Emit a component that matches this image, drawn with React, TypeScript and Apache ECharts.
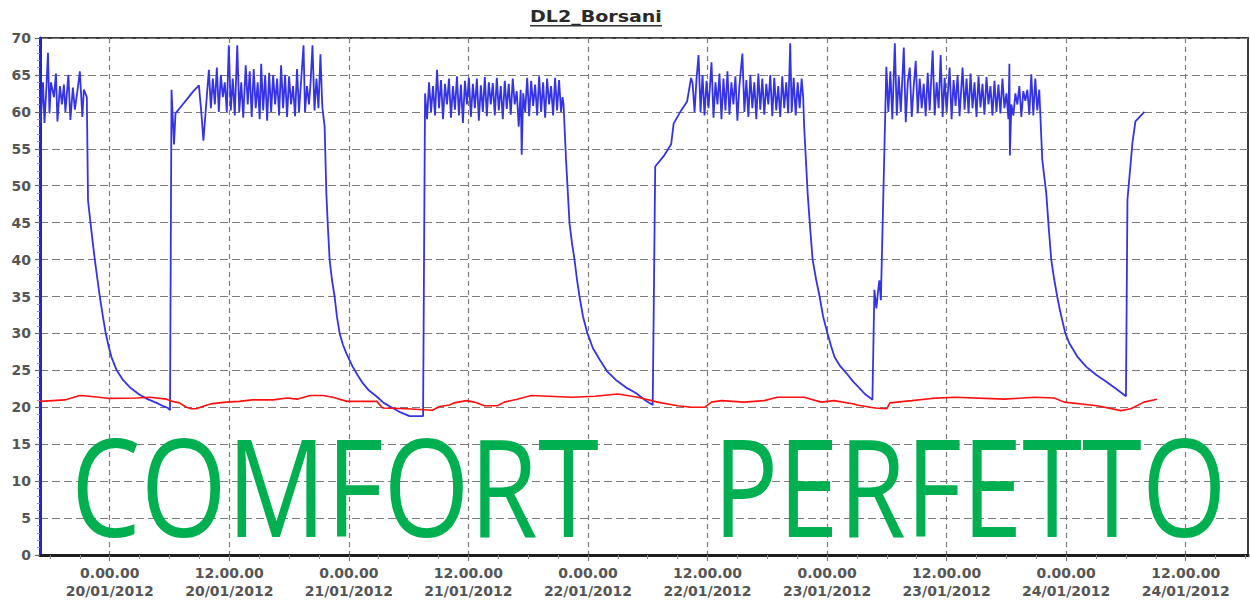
import React, { useEffect, useRef } from 'react';
import * as echarts from 'echarts';

const chartTitle = 'DL2_Borsani';
const overlayLeft = 'COMFORT';
const overlayRight = 'PERFETTO';

// x values are hours from 20/01/2012 0.00.00
const majorHours = [0, 12, 24, 36, 48, 60, 72, 84, 96, 108];
const minorHours = [-6, -3, 3, 6, 9, 15, 18, 21, 27, 30, 33, 39, 42, 45, 51, 54, 57, 63, 66, 69, 75, 78, 81, 87, 90, 93, 99, 102, 105, 111, 114];

const blueCycle1 = [
  [-6.95, 58.5], [-6.85, 60.5], [-6.7, 64], [-6.55, 58.5], [-6.35, 63.5], [-6.2, 68], [-6.05, 59.8], [-5.9, 64], [-5.6, 62],
  [-5.4, 65.2], [-5.25, 58.7], [-5.0, 63.5], [-4.8, 61], [-4.6, 63.7], [-4.45, 60], [-4.15, 65], [-3.95, 58.9],
  [-3.7, 63.3], [-3.5, 60.3], [-3.15, 63.8], [-3.0, 65.5], [-2.75, 59.3], [-2.6, 63], [-2.45, 62.5],
  [-2.3, 62], [-2.18, 48], [-1.85, 44], [-1.5, 40], [-1.0, 35], [-0.7, 32.4], [-0.4, 30], [-0.1, 28.2], [0.17, 26.8],
  [0.7, 25], [1.33, 23.7], [2.1, 22.6], [3.0, 21.7], [3.8, 21.1], [4.7, 20.6], [5.3, 20.2], [5.85, 19.9], [6.05, 19.6],
];

const blueCycle2 = [
  [6.2, 63], [6.45, 55.6], [6.6, 59.8], [7.2, 60.8], [7.8, 61.8], [8.4, 62.8], [8.95, 63.6], [9.2, 59.8], [9.4, 56.1],
  [9.95, 65.7], [10.15, 60.5], [10.35, 64.5], [10.55, 61], [10.75, 66], [10.95, 60], [11.15, 65], [11.35, 62],
  [11.55, 64], [11.75, 60], [11.95, 69], [12.15, 60.2], [12.35, 64.5], [12.55, 59.5], [12.8, 69], [13.0, 60],
  [13.2, 64], [13.4, 59.2], [13.65, 66.3], [13.85, 61], [14.05, 65.5], [14.25, 59.3], [14.45, 65.8], [14.65, 60.5],
  [14.85, 64], [15.05, 59], [15.2, 66.5], [15.4, 60.2], [15.6, 65], [15.8, 58.8], [16.0, 65.3], [16.2, 60],
  [16.4, 65], [16.6, 61], [16.8, 64.5], [17.0, 59.5], [17.2, 66.3], [17.4, 60.5], [17.6, 65], [17.8, 59.3],
  [18.0, 64.8], [18.2, 61], [18.4, 63.5], [18.6, 59.4], [18.8, 65.8], [19.0, 60], [19.2, 64], [19.45, 69],
  [19.6, 60], [19.8, 63.5], [20.0, 61], [20.15, 63.8], [20.35, 69], [20.55, 60.2], [20.75, 64.5], [20.95, 60.5],
  [21.15, 67.8], [21.3, 62],
  [21.35, 60.5], [21.57, 58], [21.74, 49], [21.9, 44.3], [22.07, 40], [22.3, 37.3], [22.57, 35], [22.8, 32.3],
  [23.08, 30], [23.4, 28.5], [23.75, 27.3], [24.38, 25.5], [24.9, 24.3], [25.38, 23.3], [26.0, 22.3], [26.76, 21.5],
  [27.5, 20.6], [28.39, 19.9], [29.2, 19.3], [30.1, 18.8], [31.45, 18.8],
];

const blueCycle3 = [
  [31.65, 62.5], [31.85, 59], [32.05, 64], [32.25, 60], [32.45, 63.5], [32.65, 59.5], [32.85, 65.7], [33.05, 60.5],
  [33.25, 64.3], [33.45, 59], [33.65, 63.8], [33.85, 61], [34.05, 64.5], [34.25, 59.2], [34.45, 63.5], [34.65, 60.3],
  [34.85, 64.8], [35.05, 59.5], [35.25, 63.7], [35.45, 58.5], [35.65, 64.2], [35.85, 61], [36.05, 64.6], [36.25, 59.3],
  [36.45, 63.8], [36.65, 60.5], [36.85, 64.5], [37.05, 58.8], [37.25, 63.6], [37.45, 60], [37.65, 64.7], [37.85, 59.4],
  [38.05, 64], [38.25, 61], [38.45, 63.9], [38.65, 59.5], [38.85, 64.6], [39.05, 60.2], [39.25, 63.5], [39.45, 59],
  [39.65, 64.2], [39.85, 60.4], [40.05, 63.8], [40.25, 59.6], [40.45, 64.5], [40.65, 61], [40.85, 62.8], [41.05, 58],
  [41.25, 63], [41.35, 54.2], [41.5, 62.5], [41.7, 60], [41.9, 64.6], [42.1, 59.4], [42.3, 64.2], [42.5, 60.8],
  [42.7, 63.7], [42.9, 59.5], [43.1, 64.8], [43.3, 60], [43.5, 64], [43.7, 59.2], [43.9, 64.5], [44.1, 61],
  [44.3, 63.5], [44.5, 59.5], [44.7, 64.6], [44.9, 60.2], [45.1, 64.3], [45.3, 60], [45.45, 62],
  [45.55, 61], [45.8, 53.5], [46.15, 44.9], [46.4, 42.2], [46.65, 40], [46.9, 37.3], [47.15, 35], [47.5, 32.3],
  [47.95, 30], [48.5, 28], [49.2, 26.4], [49.9, 24.9], [50.8, 23.7], [51.8, 22.7], [52.85, 21.9], [53.7, 21],
  [54.5, 20.3],
];

const blueCycle4 = [
  [54.75, 52.6], [55.6, 54], [56.35, 55.6], [56.6, 58.4], [57.35, 60.2], [57.95, 61.4], [58.35, 64.6],
  [58.5, 63.9], [58.7, 60], [58.9, 64.5], [59.1, 67.7], [59.3, 60], [59.5, 65], [59.7, 59.5], [59.9, 64.2],
  [60.1, 60.5], [60.4, 66.7], [60.6, 59.2], [60.8, 64], [61.0, 61], [61.2, 65.2], [61.4, 59], [61.6, 64.5],
  [61.8, 60.2], [62.0, 65.5], [62.2, 59.6], [62.4, 64], [62.6, 61], [62.8, 64.8], [63.0, 58.8], [63.2, 63.5],
  [63.5, 67.9], [63.7, 60], [63.9, 64.3], [64.1, 59.3], [64.3, 65], [64.5, 60.5], [64.7, 64], [64.9, 59],
  [65.1, 65.2], [65.3, 60.3], [65.5, 64.5], [65.7, 59.6], [65.9, 63.8], [66.1, 61], [66.3, 65], [66.5, 59.4],
  [66.7, 64.6], [66.9, 60.2], [67.1, 63.5], [67.3, 59.3], [67.5, 64.8], [67.7, 60.5], [67.9, 64], [68.1, 59.8],
  [68.3, 69.3], [68.45, 60], [68.65, 64.6], [68.85, 59.5], [69.05, 64], [69.25, 60.5], [69.45, 64.5], [69.6, 62],
  [69.7, 58], [70.05, 49], [70.3, 44.3], [70.55, 40], [70.9, 37.3], [71.25, 35], [71.6, 32.3], [72.05, 30],
  [72.4, 28.3], [72.75, 26.8], [73.3, 25.6], [73.95, 24.6], [74.6, 23.5], [75.25, 22.6], [75.8, 21.8],
  [76.4, 21.2], [76.55, 21],
];

const blueCycle5 = [
  [76.75, 35.9], [76.95, 33.4], [77.1, 35.5], [77.25, 37.2], [77.4, 34.5],
  [77.95, 66.1], [78.15, 60], [78.35, 65.5], [78.55, 59], [78.8, 69.3], [79.0, 59.5], [79.2, 64.8], [79.4, 60],
  [79.7, 68.7], [79.9, 58.6], [80.1, 64], [80.3, 66], [80.5, 59.3], [80.7, 63.5], [80.9, 66.9], [81.1, 59.8],
  [81.3, 64.5], [81.5, 60.5], [81.7, 63.8], [81.9, 59.4], [82.1, 65.3], [82.3, 60.2], [82.6, 68.3], [82.8, 59.5],
  [83.0, 64], [83.2, 60.5], [83.4, 67.7], [83.6, 59.3], [83.8, 64.6], [84.0, 60], [84.3, 66], [84.5, 59],
  [84.7, 64.3], [84.9, 60.8], [85.1, 65], [85.3, 59.4], [85.6, 66], [85.8, 60.3], [86.0, 64.5], [86.2, 59.8],
  [86.4, 65.2], [86.6, 60.5], [86.8, 64], [87.0, 59.3], [87.2, 64.8], [87.4, 60.6], [87.6, 63.8], [87.8, 59.6],
  [88.0, 64.7], [88.2, 61], [88.4, 63.5], [88.6, 59.5], [88.8, 64.2], [89.0, 60], [89.2, 63.7], [89.4, 59.8],
  [89.6, 64.5], [89.8, 60.5], [90.0, 62.5], [90.2, 59], [90.3, 66.5], [90.35, 54.1], [90.5, 61], [90.7, 59.5],
  [90.9, 62.5], [91.1, 61], [91.3, 63.5], [91.5, 59.3], [91.7, 62.8], [91.9, 61.5], [92.1, 63], [92.3, 59.6],
  [92.5, 65.1], [92.7, 59.5], [92.9, 64.5], [93.1, 60.2], [93.3, 63],
  [93.6, 53.5], [94.0, 49], [94.25, 44.3], [94.5, 40], [94.8, 37.3], [95.1, 35], [95.35, 33.3], [95.6, 31.8],
  [95.9, 30.1], [96.3, 28.7], [97.1, 26.9], [98.0, 25.5], [99.0, 24.4], [100.0, 23.5], [101.0, 22.5], [102.0, 21.5],
];

const blueCycle6 = [
  [102.15, 48.1], [102.65, 55.8], [102.95, 58.7], [103.85, 60],
];

const redData = [
  [-7.0, 20.8], [-4.5, 21.0], [-3.0, 21.6], [-2.0, 21.5], [0, 21.2], [2.7, 21.26], [4.0, 21.35], [5.7, 21.1],
  [6.3, 20.8], [7.0, 20.6], [7.7, 20.0], [8.2, 19.8], [8.7, 19.8], [9.3, 20.1], [10.3, 20.5], [11.7, 20.7],
  [13.0, 20.8], [14.3, 21.0], [16.4, 21.0], [17.8, 21.26], [18.8, 21.1], [20.1, 21.6], [21.4, 21.6], [22.4, 21.35],
  [23.8, 20.8], [26.8, 20.8], [27.4, 19.9], [29.8, 19.8], [32.4, 19.6], [33.1, 20.1], [34.1, 20.3], [34.6, 20.6],
  [35.8, 20.9], [36.6, 20.7], [37.6, 20.2], [38.9, 20.2], [39.6, 20.7], [40.9, 21.1], [42.3, 21.6], [46.4, 21.35],
  [48.7, 21.5], [51.0, 21.8], [53.0, 21.35], [55.0, 20.7], [57.0, 20.2], [58.4, 20.0], [59.7, 20.0], [60.4, 20.7],
  [61.4, 20.9], [63.7, 20.7], [65.7, 20.9], [67.0, 21.35], [69.7, 21.35], [71.4, 20.7], [72.7, 20.9], [74.7, 20.45],
  [75.0, 20.3], [76.8, 19.9], [78.0, 19.8], [78.3, 20.6], [80.5, 20.9], [82.5, 21.2], [84.8, 21.35], [89.8, 21.1],
  [92.8, 21.35], [94.8, 21.26], [95.8, 20.7], [99.1, 20.2], [101.5, 19.55], [102.5, 19.8], [103.8, 20.7], [105.1, 21.1],
];

const blueData = [...blueCycle1, ...blueCycle2, ...blueCycle3, ...blueCycle4, ...blueCycle5, ...blueCycle6];

function formatHour(v: number): string {
  const dayIdx = Math.floor(v / 24);
  const hour = Math.round(v - dayIdx * 24);
  const day = 20 + dayIdx;
  return `${hour}.00.00\n${day}/01/2012`;
}

export default function App() {
  const ref = useRef<HTMLDivElement>(null);
  useEffect(() => {
    if (!ref.current) return;
    const chart = echarts.init(ref.current, undefined, { renderer: 'svg' });
    const gridColor = '#7c7c7c';
    const option: any = {
      animation: false,
      backgroundColor: '#ffffff',
      grid: {
        left: 40, right: 2, top: 38, bottom: 50,
        show: true, borderColor: '#3c3c3c', borderWidth: 2, backgroundColor: 'transparent',
      },
      xAxis: [
        {
          type: 'value', min: -7, max: 114.25, position: 'bottom',
          axisLine: { show: true, onZero: false, lineStyle: { color: '#1e1e1e', width: 3 } },
          axisTick: { show: true, customValues: majorHours, length: 6, lineStyle: { color: '#777', width: 1.2 } },
          axisLabel: {
            customValues: majorHours,
            formatter: (v: number) => formatHour(v),
            color: '#555', fontFamily: 'DejaVu Sans', fontWeight: 'bold', fontSize: 14, lineHeight: 18, margin: 9,
          },
          splitLine: { show: true, lineStyle: { color: gridColor, type: [5, 4], width: 1.2 } },
        },
        {
          type: 'value', min: -7, max: 114.25, position: 'bottom',
          axisLine: { show: false, onZero: false },
          axisTick: { show: true, customValues: minorHours, length: 4, lineStyle: { color: '#888', width: 1 } },
          axisLabel: { show: false },
          splitLine: { show: false },
        },
      ],
      yAxis: {
        type: 'value', min: 0, max: 70, interval: 5,
        axisLine: { show: true, onZero: false, lineStyle: { color: '#2323dc', width: 3 } },
        axisTick: { show: true, length: 5, lineStyle: { color: '#666', width: 1.2 } },
        minorTick: { show: true, splitNumber: 5, length: 3, lineStyle: { color: '#8888ee', width: 1 } },
        axisLabel: { color: '#555', fontFamily: 'DejaVu Sans', fontWeight: 'bold', fontSize: 14, margin: 9 },
        splitLine: { show: true, lineStyle: { color: gridColor, type: [8, 4], width: 1.2 } },
      },
      series: [
        {
          type: 'line', name: 'blue', data: blueData, xAxisIndex: 0, showSymbol: false, symbol: 'none',
          lineStyle: { color: '#3434e4', width: 1.8 }, z: 3,
        },
        {
          type: 'line', name: 'red', data: redData, xAxisIndex: 0, showSymbol: false, symbol: 'none',
          lineStyle: { color: '#ff1010', width: 1.6 }, z: 4,
        },
      ],
      graphic: [
        {
          type: 'text', x: 530, y: 17, scaleX: 1.19, z: 10,
          style: { text: chartTitle, fill: '#2a2a2a', font: 'bold 16px "DejaVu Sans"', textAlign: 'left', textVerticalAlign: 'middle' },
        },
        { type: 'rect', shape: { x: 530, y: 25, width: 132, height: 1.6 }, style: { fill: '#333' }, z: 10 },
        {
          type: 'text', x: 71, y: 485, scaleX: 0.82, z: 100,
          style: {
            text: overlayLeft, fill: '#00b050', font: '135px "Open Sans"', textAlign: 'left', textVerticalAlign: 'middle',
            shadowBlur: 6, shadowColor: 'rgba(0,0,0,0.35)', shadowOffsetX: 4, shadowOffsetY: 4,
          },
        },
        {
          type: 'text', x: 713, y: 485, scaleX: 0.805, z: 100,
          style: {
            text: overlayRight, fill: '#00b050', font: '135px "Open Sans"', textAlign: 'left', textVerticalAlign: 'middle',
            shadowBlur: 6, shadowColor: 'rgba(0,0,0,0.35)', shadowOffsetX: 4, shadowOffsetY: 4,
          },
        },
      ],
    };
    chart.setOption(option);
    return () => chart.dispose();
  }, []);
  return <div ref={ref} style={{ position: 'absolute', left: 0, top: 0, width: 1250, height: 605 }} />;
}
